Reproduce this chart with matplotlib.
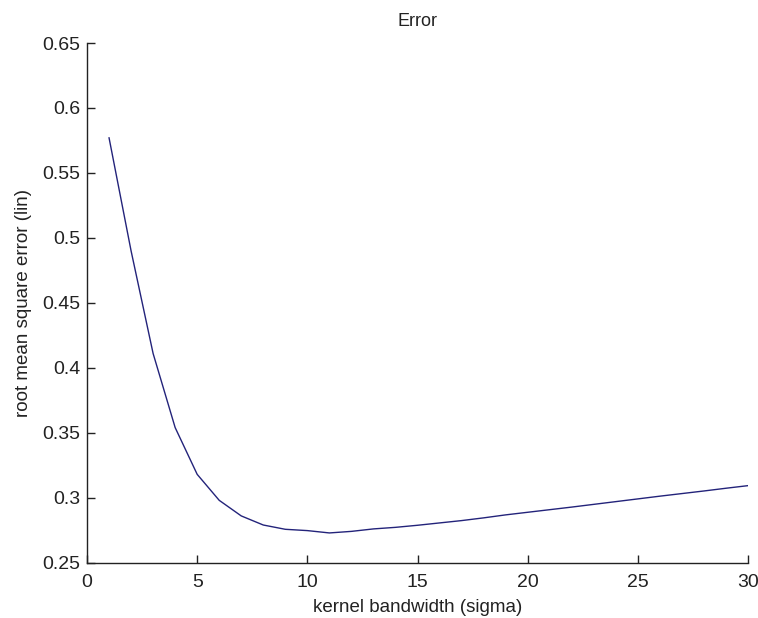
import matplotlib.pyplot as plt

# kernel bandwidth vs rmse
sigma = list(range(1, 31))
rmse = [0.577, 0.490, 0.411, 0.354, 0.318, 0.298, 0.286, 0.279, 0.2757, 0.2747,
        0.2729, 0.2741, 0.2760, 0.2772, 0.2788, 0.2806, 0.2824, 0.2845, 0.2868, 0.2888,
        0.2908, 0.2928, 0.2949, 0.2970, 0.2991, 0.3012, 0.3032, 0.3052, 0.3073, 0.3093]

xticks = [0, 5, 10, 15, 20, 25, 30]
yticks = [0.25, 0.3, 0.35, 0.4, 0.45, 0.5, 0.55, 0.6, 0.65]
yticklabels = ['0.25', '0.3', '0.35', '0.4', '0.45', '0.5', '0.55', '0.6', '0.65']

plt.rcParams['font.family'] = ['Liberation Sans', 'DejaVu Sans']

fig = plt.figure(figsize=(7.58, 6.18), dpi=100)
ax = fig.add_axes([0.1148, 0.0895, 0.872, 0.8409])

ax.plot(sigma, rmse, color='#23237a', linewidth=1.0)

ax.set_xlim(0, 30)
ax.set_ylim(0.25, 0.65)
ax.set_xticks(xticks)
ax.set_xticklabels([str(t) for t in xticks])
ax.set_yticks(yticks)
ax.set_yticklabels(yticklabels)

for s in ['top', 'right']:
    ax.spines[s].set_visible(False)
for s in ['left', 'bottom']:
    ax.spines[s].set_linewidth(1.0)
    ax.spines[s].set_color('#222222')

ax.tick_params(direction='in', length=6, width=1.0, labelsize=14, colors='#222222')
ax.tick_params(axis='x', pad=8)
ax.tick_params(axis='y', pad=5)

ax.set_title('Error', fontsize=13, pad=12, color='#222222')
ax.set_xlabel('kernel bandwidth (sigma)', fontsize=13.5, labelpad=6, color='#222222')
ax.set_ylabel('root mean square error (lin)', fontsize=13.5, labelpad=7, color='#222222')

fig.savefig('out.png', dpi=100)
